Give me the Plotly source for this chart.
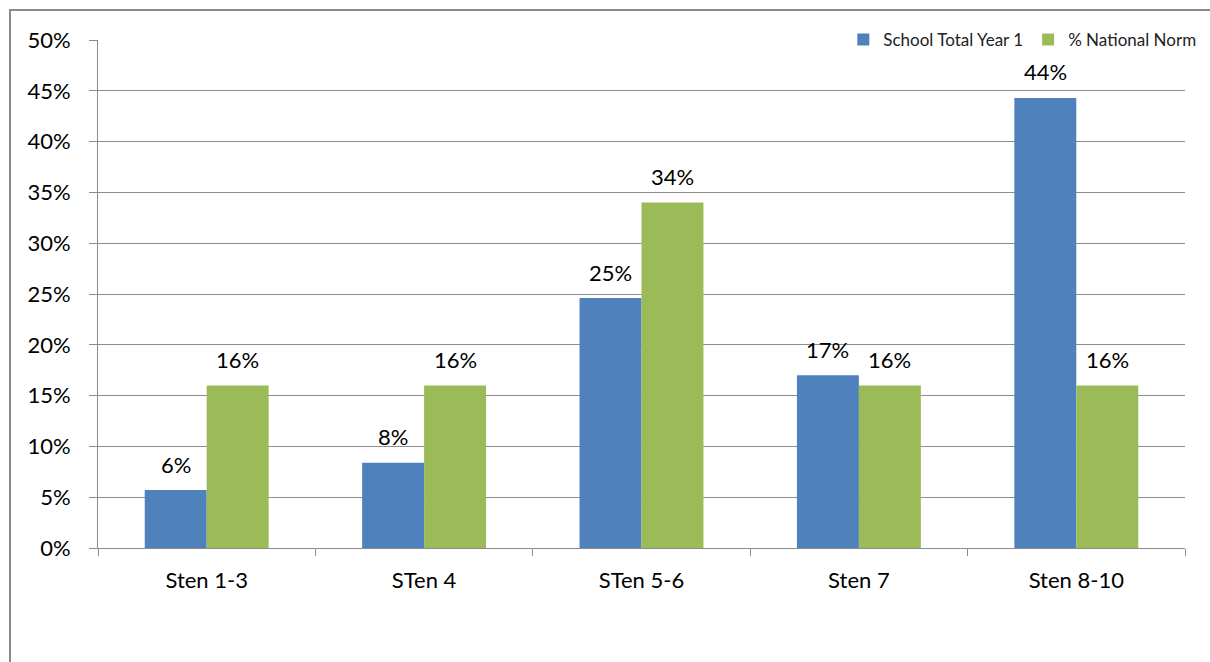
import plotly.graph_objects as go

categories = ["Sten 1-3", "STen 4", "STen 5-6", "Sten 7", "Sten 8-10"]
school_total = [0.057, 0.084, 0.246, 0.17, 0.443]
national_norm = [0.16, 0.16, 0.34, 0.16, 0.16]
y_ticks = [0, 0.05, 0.10, 0.15, 0.20, 0.25, 0.30, 0.35, 0.40, 0.45, 0.50]

BLUE = "#4F81BD"
GREEN = "#9BBB59"
GRID = "#8C8C8C"
FONT = "Lato"

fig = go.Figure()
fig.add_trace(go.Bar(name="School Total Year 1", x=categories, y=school_total,
                     marker=dict(color=BLUE, line=dict(width=0))))
fig.add_trace(go.Bar(name="% National Norm", x=categories, y=national_norm,
                     marker=dict(color=GREEN, line=dict(width=0))))

annotations = []
for cat, v in zip(categories, school_total):
    annotations.append(dict(x=cat, y=v, xref="x", yref="y", text=f"{int(v*100+0.5)}%",
                            showarrow=False, xshift=-31, yshift=26, yanchor="middle",
                            font=dict(family=FONT, size=22, color="#000")))
for cat, v in zip(categories, national_norm):
    annotations.append(dict(x=cat, y=v, xref="x", yref="y", text=f"{int(v*100+0.5)}%",
                            showarrow=False, xshift=31, yshift=26, yanchor="middle",
                            font=dict(family=FONT, size=22, color="#000")))

fig.update_layout(
    width=1210, height=662,
    margin=dict(l=98, r=25, t=40, b=114, autoexpand=False),
    paper_bgcolor="white", plot_bgcolor="white",
    barmode="group", bargap=0.43, bargroupgap=0,
    font=dict(family=FONT, size=22, color="#000"),
    showlegend=True,
    legend=dict(orientation="h", x=1.015, xanchor="right", y=1.0, yanchor="middle",
                bgcolor="rgba(0,0,0,0)", font=dict(family=FONT, size=17, color="#222"),
                itemwidth=30, tracegroupgap=0),
    annotations=annotations,
    shapes=[dict(type="rect", xref="paper", yref="paper",
                 x0=(10 - 98) / 1087, x1=1.2, y0=-0.5, y1=1 + 30 / 508,
                 line=dict(color="#8A8A8A", width=2), fillcolor="rgba(0,0,0,0)", layer="below")],
)

fig.update_yaxes(range=[0, 0.5], tickvals=y_ticks, tickformat=".0%",
                 showgrid=True, gridcolor=GRID, gridwidth=1,
                 showline=True, linecolor=GRID, linewidth=1,
                 ticks="outside", ticklen=8, tickcolor=GRID,
                 tickfont=dict(family=FONT, size=22, color="#000"),
                 zeroline=False, ticklabelstandoff=14)
fig.update_xaxes(showline=True, linecolor=GRID, linewidth=1,
                 ticks="outside", ticklen=7, tickcolor=GRID, tickson="boundaries",
                 tickfont=dict(family=FONT, size=22, color="#000"),
                 showgrid=False, ticklabelstandoff=13)

fig.write_html("out.html")
